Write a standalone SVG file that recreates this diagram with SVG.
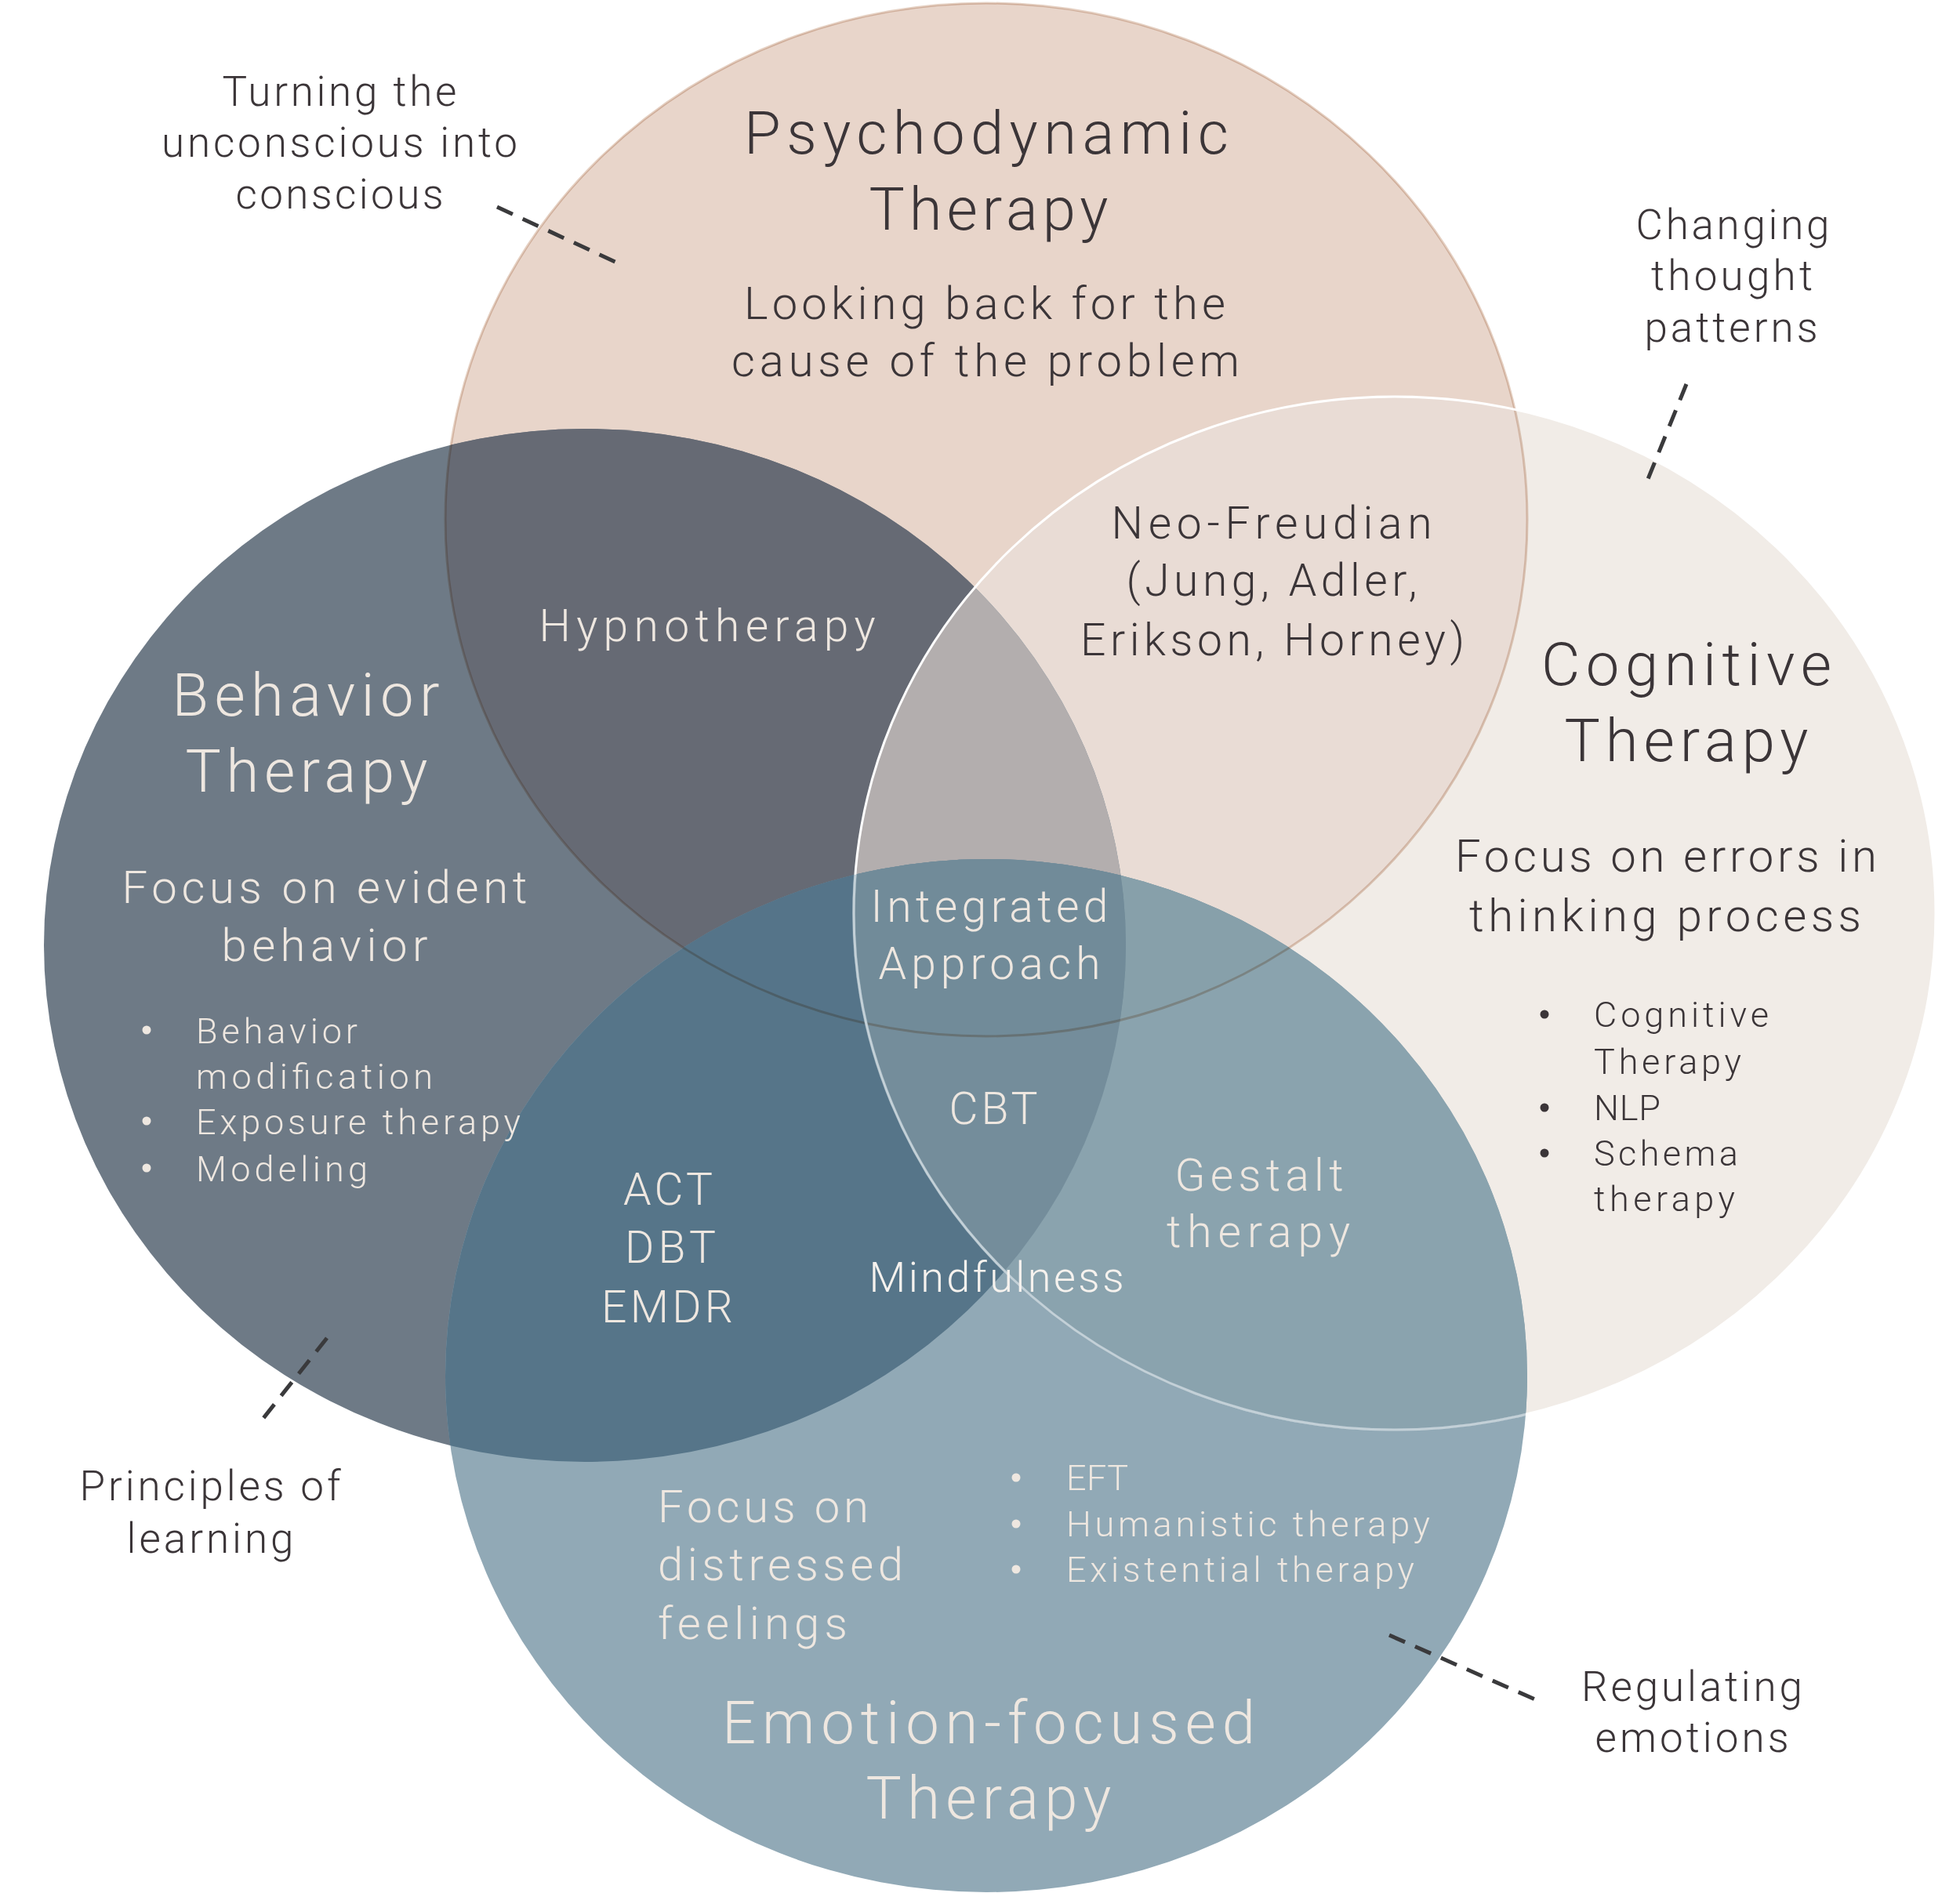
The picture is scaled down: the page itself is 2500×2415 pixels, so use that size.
<svg xmlns="http://www.w3.org/2000/svg" width="2500" height="2415" viewBox="0 0 2500 2415">
<style>
text{font-family:Roboto,"Open Sans","Liberation Sans",sans-serif;font-weight:300}
.dk{fill:#3b3538}
.lt{fill:#eee7e0}
.title{font-size:76px}
.sub{font-size:58px}
.lab{font-size:57px}
.ann{font-size:53px}
.bul{font-size:45px}
.mid{text-anchor:middle}
.dash{stroke:#3a3a3c;stroke-width:5;stroke-dasharray:22 14;fill:none}
</style>
<defs>
<clipPath id="cP"><ellipse cx="1258" cy="663" rx="690" ry="659"/></clipPath>
<clipPath id="cB"><ellipse cx="746" cy="1206" rx="690" ry="659"/></clipPath>
<clipPath id="cC"><ellipse cx="1779" cy="1165" rx="690" ry="659"/></clipPath>
<clipPath id="cE"><ellipse cx="1258" cy="1755" rx="690" ry="659"/></clipPath>
<ellipse id="eP" cx="1258" cy="663" rx="690" ry="659"/>
<ellipse id="eB" cx="746" cy="1206" rx="690" ry="659"/>
<ellipse id="eC" cx="1779" cy="1165" rx="690" ry="659"/>
<ellipse id="eE" cx="1258" cy="1755" rx="690" ry="659"/>
</defs>
<rect width="2500" height="2415" fill="#ffffff"/>
<g id="regions">
<use href="#eP" fill="#e8d5ca"/>
<use href="#eB" fill="#6e7a86"/>
<use href="#eC" fill="#f1ece7"/>
<use href="#eE" fill="#91a9b6"/>
<g clip-path="url(#cP)"><use href="#eB" fill="#666a74"/><use href="#eC" fill="#e9dcd5"/><use href="#eE" fill="#8aa0aa"/></g>
<g clip-path="url(#cB)"><use href="#eC" fill="#748d9b"/><use href="#eE" fill="#567589"/></g>
<g clip-path="url(#cC)"><use href="#eE" fill="#8aa3ae"/></g>
<g clip-path="url(#cP)"><g clip-path="url(#cB)"><use href="#eC" fill="#b3aeae"/><use href="#eE" fill="#557489"/></g></g>
<g clip-path="url(#cP)"><g clip-path="url(#cC)"><use href="#eE" fill="#87a0aa"/></g></g>
<g clip-path="url(#cB)"><g clip-path="url(#cC)"><use href="#eE" fill="#748d9b"/></g></g>
<g clip-path="url(#cP)"><g clip-path="url(#cB)"><g clip-path="url(#cC)"><use href="#eE" fill="#718b99"/></g></g></g>
<use href="#eP" fill="none" stroke="#dbbfac" stroke-width="3" opacity="0.75" style="mix-blend-mode:multiply"/>
<use href="#eC" fill="none" stroke="#ffffff" stroke-width="3"/>
<g clip-path="url(#cE)"><use href="#eC" fill="none" stroke="#91a9b6" stroke-width="4" opacity="0.55"/></g>
</g>
<g id="connectors">
<line class="dash" x1="634" y1="264" x2="793" y2="338"/>
<line class="dash" x1="2151" y1="490" x2="2098" y2="621"/>
<line class="dash" x1="417" y1="1707" x2="329" y2="1818"/>
<line class="dash" x1="1772" y1="2086" x2="1958" y2="2168"/>
</g>
<g id="psychodynamic">
<text class="dk title mid" x="1258" y="196" textLength="618" lengthAdjust="spacing">Psychodynamic</text>
<text class="dk title mid" x="1261" y="293" textLength="305" lengthAdjust="spacing">Therapy</text>
<text class="dk sub mid" x="1256" y="407" textLength="614" lengthAdjust="spacing">Looking back for the</text>
<text class="dk sub mid" x="1257" y="480" textLength="648" lengthAdjust="spacing">cause of the problem</text>
</g>
<g id="behavior">
<text class="lt title mid" x="390" y="913" textLength="341" lengthAdjust="spacing">Behavior</text>
<text class="lt title mid" x="391" y="1010" textLength="309" lengthAdjust="spacing">Therapy</text>
<text class="lt sub mid" x="414" y="1152" textLength="517" lengthAdjust="spacing">Focus on evident</text>
<text class="lt sub mid" x="414" y="1226" textLength="263" lengthAdjust="spacing">behavior</text>
<circle cx="187" cy="1314" r="5.5" fill="#eee7e0"/>
<circle cx="187" cy="1430" r="5.5" fill="#eee7e0"/>
<circle cx="187" cy="1490" r="5.5" fill="#eee7e0"/>
<text class="lt bul" x="250" y="1331" textLength="206" lengthAdjust="spacing">Behavior</text>
<text class="lt bul" x="250" y="1389" textLength="302" lengthAdjust="spacing">modification</text>
<text class="lt bul" x="250" y="1447" textLength="414" lengthAdjust="spacing">Exposure therapy</text>
<text class="lt bul" x="250" y="1507" textLength="219" lengthAdjust="spacing">Modeling</text>
</g>
<g id="cognitive">
<text class="dk title mid" x="2151" y="874" textLength="370" lengthAdjust="spacing">Cognitive</text>
<text class="dk title mid" x="2151" y="971" textLength="311" lengthAdjust="spacing">Therapy</text>
<text class="dk sub mid" x="2125" y="1112" textLength="538" lengthAdjust="spacing">Focus on errors in</text>
<text class="dk sub mid" x="2124" y="1188" textLength="500" lengthAdjust="spacing">thinking process</text>
<circle cx="1970" cy="1294" r="5.5" fill="#3b3538"/>
<circle cx="1970" cy="1413" r="5.5" fill="#3b3538"/>
<circle cx="1970" cy="1471" r="5.5" fill="#3b3538"/>
<text class="dk bul" x="2033" y="1310" textLength="223" lengthAdjust="spacing">Cognitive</text>
<text class="dk bul" x="2033" y="1370" textLength="188" lengthAdjust="spacing">Therapy</text>
<text class="dk bul" x="2033" y="1429" textLength="85" lengthAdjust="spacing">NLP</text>
<text class="dk bul" x="2033" y="1487" textLength="184" lengthAdjust="spacing">Schema</text>
<text class="dk bul" x="2033" y="1545" textLength="180" lengthAdjust="spacing">therapy</text>
</g>
<g id="emotion">
<text class="lt sub" x="839" y="1942" textLength="269" lengthAdjust="spacing">Focus on</text>
<text class="lt sub" x="839" y="2016" textLength="313" lengthAdjust="spacing">distressed</text>
<text class="lt sub" x="839" y="2091" textLength="242" lengthAdjust="spacing">feelings</text>
<text class="lt title mid" x="1261" y="2224" textLength="680" lengthAdjust="spacing">Emotion-focused</text>
<text class="lt title mid" x="1261" y="2320" textLength="313" lengthAdjust="spacing">Therapy</text>
<circle cx="1296" cy="1885" r="5.5" fill="#eee7e0"/>
<circle cx="1296" cy="1944" r="5.5" fill="#eee7e0"/>
<circle cx="1296" cy="2002" r="5.5" fill="#eee7e0"/>
<text class="lt bul" x="1360" y="1901" textLength="79" lengthAdjust="spacing">EFT</text>
<text class="lt bul" x="1360" y="1960" textLength="464" lengthAdjust="spacing">Humanistic therapy</text>
<text class="lt bul" x="1360" y="2018" textLength="444" lengthAdjust="spacing">Existential therapy</text>
</g>
<g id="intersections">
<text class="lt lab mid" x="902" y="818" textLength="429" lengthAdjust="spacing">Hypnotherapy</text>
<text class="dk lab mid" x="1622" y="687" textLength="409" lengthAdjust="spacing">Neo-Freudian</text>
<text class="dk lab mid" x="1622" y="760" textLength="371" lengthAdjust="spacing">(Jung, Adler,</text>
<text class="dk lab mid" x="1623" y="836" textLength="490" lengthAdjust="spacing">Erikson, Horney)</text>
<text class="lt lab mid" x="1262" y="1176" textLength="303" lengthAdjust="spacing">Integrated</text>
<text class="lt lab mid" x="1262" y="1249" textLength="283" lengthAdjust="spacing">Approach</text>
<text class="lt lab mid" x="1267" y="1434" textLength="113" lengthAdjust="spacing">CBT</text>
<text class="lt lab mid" x="852" y="1537" textLength="114" lengthAdjust="spacing">ACT</text>
<text class="lt lab mid" x="855" y="1611" textLength="116" lengthAdjust="spacing">DBT</text>
<text class="lt lab mid" x="851" y="1687" textLength="168" lengthAdjust="spacing">EMDR</text>
<text class="lab mid" x="1271" y="1648" textLength="325" lengthAdjust="spacing" fill="#f6f2ee" style="font-size:54px">Mindfulness</text>
<text class="lt lab mid" x="1606" y="1519" textLength="215" lengthAdjust="spacing">Gestalt</text>
<text class="lt lab mid" x="1605" y="1591" textLength="234" lengthAdjust="spacing">therapy</text>
</g>
<g id="annotations">
<text class="dk ann mid" x="433" y="135" textLength="299" lengthAdjust="spacing">Turning the</text>
<text class="dk ann mid" x="433" y="200" textLength="454" lengthAdjust="spacing">unconscious into</text>
<text class="dk ann mid" x="433" y="266" textLength="265" lengthAdjust="spacing">conscious</text>
<text class="dk ann mid" x="2210" y="305" textLength="247" lengthAdjust="spacing">Changing</text>
<text class="dk ann mid" x="2209" y="370" textLength="206" lengthAdjust="spacing">thought</text>
<text class="dk ann mid" x="2208" y="436" textLength="221" lengthAdjust="spacing">patterns</text>
<text class="dk ann mid" x="268" y="1914" textLength="333" lengthAdjust="spacing">Principles of</text>
<text class="dk ann mid" x="268" y="1981" textLength="213" lengthAdjust="spacing">learning</text>
<text class="dk ann mid" x="2158" y="2170" textLength="282" lengthAdjust="spacing">Regulating</text>
<text class="dk ann mid" x="2158" y="2235" textLength="247" lengthAdjust="spacing">emotions</text>
</g>
</svg>
